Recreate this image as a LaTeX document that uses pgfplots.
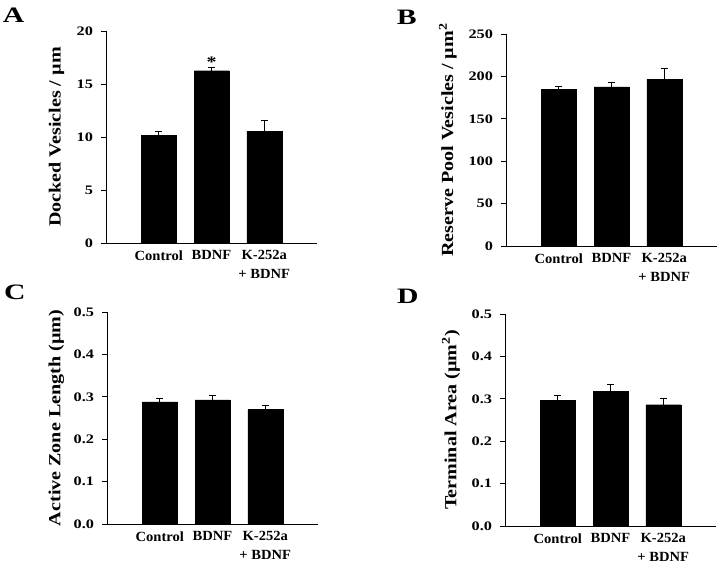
\documentclass[border=0pt]{standalone}
\usepackage{fontspec}
\setmainfont{Liberation Serif}
\newfontfamily\tickf[FakeStretch=1.25]{Liberation Serif Bold}
\newfontfamily\labf[FakeStretch=1.18]{Liberation Serif Bold}
\newfontfamily\letf[FakeStretch=1.35]{Liberation Serif Bold}
\newfontfamily\xf[FakeStretch=1.04]{Liberation Serif Bold}
\usepackage{pgfplots}
\pgfplotsset{compat=1.18}
\pgfplotsset{
  panel/.style={
    scale only axis, width=211pt, height=212pt,
    xmin=0, xmax=4, ymin=0,
    axis x line=bottom, axis y line=left,
    axis line style={-, line width=0.8pt},
    xtick={1,2,3},
    xticklabels={Control,BDNF,K-252a\\+ BDNF},
    xtick style={draw=none},
    ytick style={line width=0.8pt, black},
    tick align=outside, major tick length=5pt,
    /pgf/number format/assume math mode=true,
    xticklabel style={align=center, font=\xf\fontsize{14}{18.5}\selectfont, yshift=1pt},
    yticklabel style={font=\tickf\fontsize{13}{14}\selectfont, xshift=-4.5pt},
    ylabel style={font=\labf\fontsize{17}{18}\selectfont, anchor=base},
  },
  barstyle/.style={ybar, bar width=35pt, bar shift=0pt, fill=black, draw=black,
      error bars/y dir=plus, error bars/y explicit,
      error bars/error bar style={line width=0.8pt, black},
      error bars/error mark options={rotate=90, mark size=3.5pt, line width=0.8pt, black}},
}
\begin{document}
\begin{tikzpicture}
\useasboundingbox (0,0) rectangle (720pt,563pt);
% Panel A
\begin{axis}[panel, at={(106pt,320pt)}, anchor=south west, ymax=20, ytick={0,5,10,15,20},
  ylabel={Docked Vesicles / µm}, ylabel style={at={(axis description cs:-0.215,0.5)}}]
\addplot[barstyle] coordinates {(1,10.15) +- (0,0.35) (2,16.25) +- (0,0.35) (3,10.55) +- (0,1.05)};
\node[anchor=base, font=\tickf\fontsize{16}{16}\selectfont] at (axis cs:2,16.6) {*};
\end{axis}
% Panel B
\begin{axis}[panel, at={(506pt,317pt)}, anchor=south west, ymax=250, ytick={0,50,100,150,200,250},
  ylabel={Reserve Pool Vesicles / µm\textsuperscript{2}}, ylabel style={at={(axis description cs:-0.251,0.5)}}]
\addplot[barstyle] coordinates {(1,184.8) +- (0,3.5) (2,187.5) +- (0,5) (3,196.6) +- (0,13)};
\end{axis}
% Panel C
\begin{axis}[panel, at={(107pt,39pt)}, anchor=south west, ymax=0.5, ytick={0,0.1,0.2,0.3,0.4,0.5},
  yticklabel style={/pgf/number format/.cd, fixed, fixed zerofill, precision=1},
  ylabel={Active Zone Length (µm)}, ylabel style={at={(axis description cs:-0.221,0.5)}}]
\addplot[barstyle] coordinates {(1,0.288) +- (0,0.008) (2,0.293) +- (0,0.011) (3,0.270) +- (0,0.010)};
\end{axis}
% Panel D
\begin{axis}[panel, at={(505pt,37pt)}, anchor=south west, ymax=0.5, ytick={0,0.1,0.2,0.3,0.4,0.5},
  yticklabel style={/pgf/number format/.cd, fixed, fixed zerofill, precision=1},
  ylabel={Terminal Area (µm\textsuperscript{2})}, ylabel style={at={(axis description cs:-0.231,0.5)}}]
\addplot[barstyle] coordinates {(1,0.296) +- (0,0.012) (2,0.318) +- (0,0.016) (3,0.286) +- (0,0.016)};
\end{axis}
% panel letters
\node[anchor=base west, inner sep=0pt, font=\letf\fontsize{22}{24}\selectfont] at (2.7pt,540.3pt) {A};
\node[anchor=base west, inner sep=0pt, font=\letf\fontsize{22}{24}\selectfont] at (396.7pt,538pt) {B};
\node[anchor=base west, inner sep=0pt, font=\letf\fontsize{22}{24}\selectfont] at (4pt,263pt) {C};
\node[anchor=base west, inner sep=0pt, font=\letf\fontsize{22}{24}\selectfont] at (397pt,260pt) {D};
\end{tikzpicture}
\end{document}
